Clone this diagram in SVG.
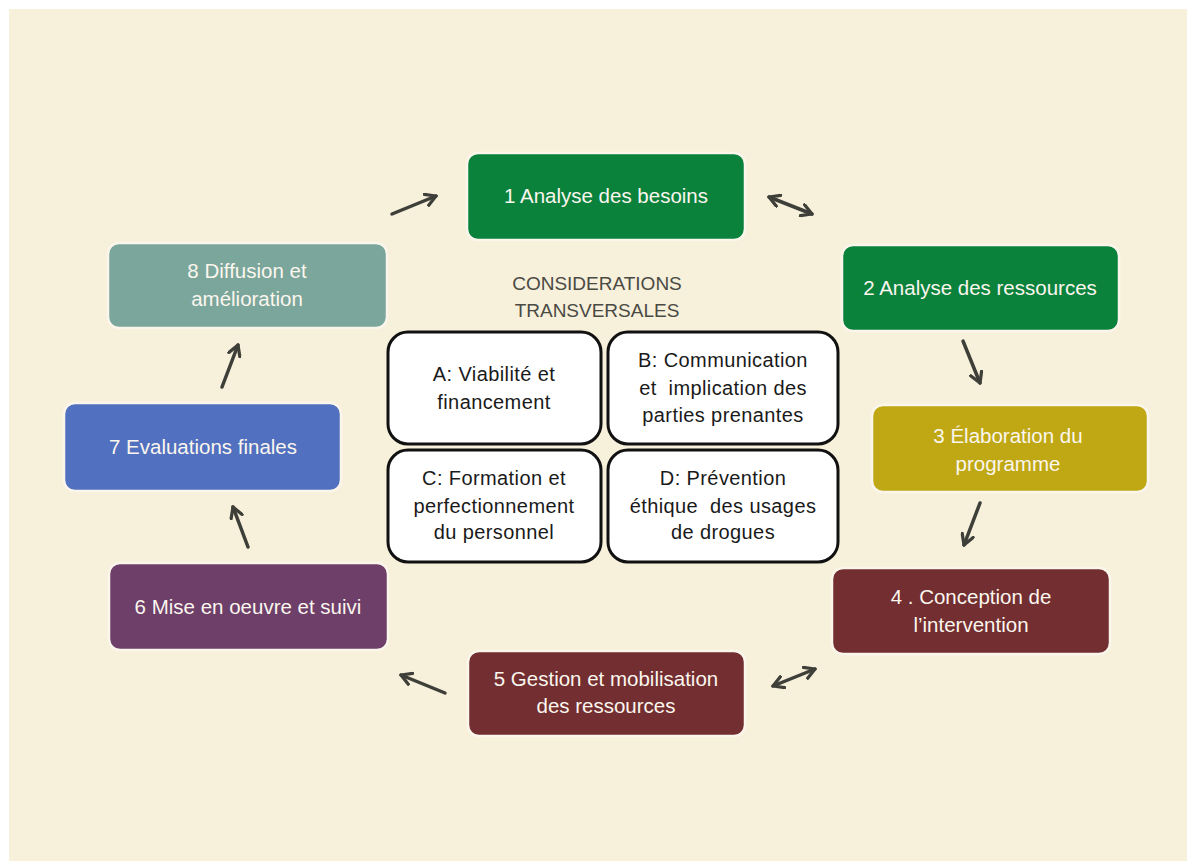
<svg xmlns="http://www.w3.org/2000/svg" width="1187" height="862" viewBox="0 0 1187 862">
<defs>
<style>
.bg{fill:#F7F0DB}
.step{stroke:#FBF6EC;stroke-width:2.5}
.st{font-family:"Liberation Sans",Arial,sans-serif;font-size:20.5px;fill:#FBF6EE;text-anchor:middle}
.cbox{fill:#FFFFFF;stroke:#111111;stroke-width:3}
.ct{font-family:"Liberation Sans",Arial,sans-serif;font-size:20px;letter-spacing:0.4px;fill:#1a1a1a;text-anchor:middle;white-space:pre}
.title{font-family:"Liberation Sans",Arial,sans-serif;font-size:19px;fill:#4a4a44;text-anchor:middle}
.arr{stroke:#3f3f3a;stroke-width:3.5;fill:none;stroke-linecap:round}
</style>
<marker id="ah" viewBox="0 0 10 10" refX="8" refY="5" markerWidth="4.2" markerHeight="4.2" orient="auto-start-reverse" markerUnits="strokeWidth">
<path d="M1,1 L8,5 L1,9" fill="none" stroke="#3f3f3a" stroke-width="2.2" stroke-linecap="round" stroke-linejoin="round"/>
</marker>
</defs>
<rect class="bg" x="9" y="9" width="1178" height="852"/>

<g id="connectors">
<line class="arr" x1="392" y1="214" x2="436" y2="196" marker-end="url(#ah)"/>
<line class="arr" x1="769" y1="197" x2="812" y2="214" marker-start="url(#ah)" marker-end="url(#ah)"/>
<line class="arr" x1="963" y1="341" x2="980" y2="383" marker-end="url(#ah)"/>
<line class="arr" x1="980" y1="503" x2="964" y2="545" marker-end="url(#ah)"/>
<line class="arr" x1="773" y1="686" x2="815" y2="669" marker-start="url(#ah)" marker-end="url(#ah)"/>
<line class="arr" x1="445" y1="693" x2="401" y2="675" marker-end="url(#ah)"/>
<line class="arr" x1="248" y1="547" x2="233" y2="507" marker-end="url(#ah)"/>
<line class="arr" x1="222" y1="387" x2="238" y2="345" marker-end="url(#ah)"/>
</g>

<g id="n1">
<rect class="step" x="467" y="153" width="278" height="87" rx="11" fill="#0A823C"/>
<text class="st" x="606" y="203">1 Analyse des besoins</text>
</g>
<g id="n2">
<rect class="step" x="842" y="245" width="277" height="86" rx="11" fill="#0A823C"/>
<text class="st" x="980" y="295">2 Analyse des ressources</text>
</g>
<g id="n3">
<rect class="step" x="872" y="405" width="276" height="87" rx="11" fill="#BFA814"/>
<text class="st" x="1008" y="443">3 Élaboration du</text>
<text class="st" x="1008" y="471">programme</text>
</g>
<g id="n4">
<rect class="step" x="832" y="568" width="278" height="86" rx="11" fill="#722E30"/>
<text class="st" x="971" y="604">4 . Conception de</text>
<text class="st" x="971" y="632">l’intervention</text>
</g>
<g id="n5">
<rect class="step" x="468" y="651" width="277" height="85" rx="11" fill="#722E30"/>
<text class="st" x="606" y="686">5 Gestion et mobilisation</text>
<text class="st" x="606" y="713">des ressources</text>
</g>
<g id="n6">
<rect class="step" x="109" y="563" width="279" height="87" rx="11" fill="#6D3F69"/>
<text class="st" x="248" y="614">6 Mise en oeuvre et suivi</text>
</g>
<g id="n7">
<rect class="step" x="64" y="403" width="277" height="88" rx="11" fill="#5170BF"/>
<text class="st" x="203" y="454">7 Evaluations finales</text>
</g>
<g id="n8">
<rect class="step" x="108" y="243" width="279" height="85" rx="11" fill="#7BA69B"/>
<text class="st" x="247" y="278">8 Diffusion et</text>
<text class="st" x="247" y="306">amélioration</text>
</g>

<g id="title">
<text class="title" x="597" y="290">CONSIDERATIONS</text>
<text class="title" x="597" y="317">TRANSVERSALES</text>
</g>
<g id="nA">
<rect class="cbox" x="388" y="332" width="213" height="112" rx="20"/>
<text class="ct" x="494" y="381">A: Viabilité et</text>
<text class="ct" x="494" y="409">financement</text>
</g>
<g id="nB">
<rect class="cbox" x="608" y="332" width="230" height="112" rx="20"/>
<text class="ct" x="723" y="367">B: Communication</text>
<text class="ct" x="723" y="395">et  implication des</text>
<text class="ct" x="723" y="422">parties prenantes</text>
</g>
<g id="nC">
<rect class="cbox" x="388" y="450" width="213" height="112" rx="20"/>
<text class="ct" x="494" y="485">C: Formation et</text>
<text class="ct" x="494" y="513">perfectionnement</text>
<text class="ct" x="494" y="539">du personnel</text>
</g>
<g id="nD">
<rect class="cbox" x="608" y="450" width="230" height="112" rx="20"/>
<text class="ct" x="723" y="485">D: Prévention</text>
<text class="ct" x="723" y="513">éthique  des usages</text>
<text class="ct" x="723" y="539">de drogues</text>
</g>
</svg>
